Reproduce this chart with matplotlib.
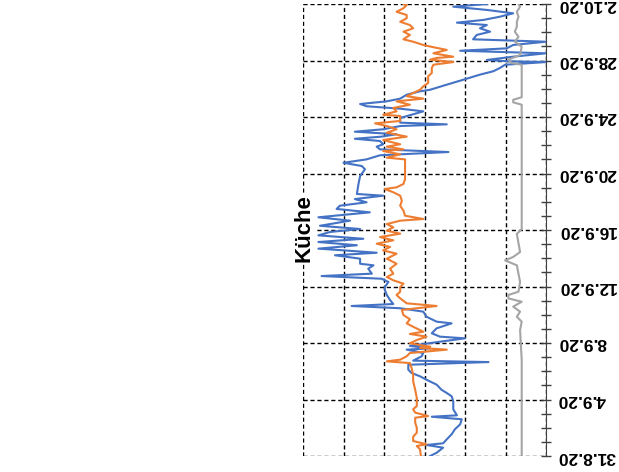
import numpy as np
import pandas as pd
import matplotlib
matplotlib.use('Agg')
import matplotlib.pyplot as plt
from matplotlib.ticker import FixedLocator

plt.rcParams['font.family'] = ['Liberation Sans', 'DejaVu Sans']

start = pd.Timestamp('2020-08-31')

# days since 31.8.20 and readings (value axis 0..60, drawn right to left)
blue_days = [0.00, 0.23, 0.59, 0.78, 0.90, 1.18, 1.54, 1.89, 2.24, 2.60, 2.78, 2.88, 3.31, 3.54,
             3.87, 4.23, 4.46, 4.69, 5.05, 5.40, 5.64, 5.88, 6.11, 6.46, 6.65, 6.75, 7.06, 7.29,
             7.53, 7.62, 7.79, 8.09, 8.33, 8.45, 8.69, 9.04, 9.39, 9.51, 9.86, 10.22, 10.46, 10.62,
             10.76, 11.04, 11.40, 11.75, 11.96, 12.32, 12.55, 12.74, 12.91, 13.26, 13.50, 13.61,
             13.97, 14.21, 14.39, 14.56, 14.68, 14.92, 15.15, 15.38, 15.62, 15.86, 16.07, 16.30,
             16.66, 16.90, 17.25, 17.49, 17.72, 17.96, 18.19, 18.43, 18.55, 19.26, 19.82, 20.30,
             20.53, 20.76, 21.00, 21.29, 21.52, 21.71, 21.90, 22.07, 22.30, 22.46, 22.61, 22.78,
             22.96, 23.13, 23.36, 23.48, 23.60, 23.93, 24.40, 24.59, 24.76, 24.92, 25.11, 25.30,
             25.58, 25.82, 25.93, 26.29, 26.64, 27.00, 27.24, 27.47, 27.70, 27.89, 27.94, 28.04,
             28.27, 28.51, 28.69, 28.86, 29.10, 29.33, 29.50, 29.81, 30.04, 30.28, 30.51, 30.68,
             30.87, 31.10, 31.34, 31.58, 31.81, 32.00]
blue_vals = [28.6, 27.0, 25.4, 29.5, 25.4, 24.5, 23.3, 22.5, 21.2, 20.8, 28.2, 22.0, 22.9, 22.9,
             22.9, 23.3, 24.5, 25.8, 27.0, 29.5, 31.1, 33.2, 34.0, 34.0, 14.2, 32.8, 30.7, 30.3,
             34.4, 28.6, 33.6, 26.2, 20.0, 26.2, 28.2, 27.0, 23.3, 27.0, 29.5, 30.3, 36.0, 48.0,
             37.7, 38.5, 39.3, 39.8, 39.8, 38.9, 40.6, 55.4, 43.0, 43.9, 42.6, 45.9,
             45.9, 52.1, 41.8, 50.0, 56.2, 46.7, 56.2, 45.1, 56.2, 53.3, 45.9, 55.8,
             48.4, 56.2, 43.5, 51.7, 50.9, 44.3, 47.2, 40.2, 46.7, 46.3, 45.9, 44.7,
             45.5, 50.0, 44.3, 41.0, 24.1, 41.0, 41.8, 40.2, 41.0, 47.2, 40.6, 36.9,
             47.2, 40.2, 36.0, 24.5, 36.0, 36.0, 30.3, 36.0, 44.3, 45.9, 39.3, 36.0,
             34.4, 31.1, 28.6, 24.5, 20.4, 16.3, 13.0, 11.4, 10.1, 0.0, 8.9, 14.6,
             8.1, 0.0, 21.2, 9.7, 8.1, 0.0, 18.0, 17.1, 13.8, 16.3, 14.6, 22.0,
             15.5, 11.4, 8.1, 14.6, 22.9, 14.6]

orange_days = [0.00, 0.47, 0.71, 0.83, 1.06, 1.37, 1.65, 2.00, 2.36, 2.71, 2.83, 3.07, 3.31, 3.54,
               3.75, 4.11, 4.69, 5.29, 5.76, 6.23, 6.58, 6.70, 6.82, 7.06, 7.29, 7.53, 7.65, 7.74,
               7.98, 8.21, 8.45, 8.64, 8.80, 9.15, 9.39, 9.68, 9.98, 10.34, 10.62, 10.81, 11.16,
               11.40, 11.63, 11.96, 12.20, 12.44, 12.67, 12.91, 13.26, 13.61, 13.97, 14.32, 14.56,
               14.80, 15.03, 15.27, 15.50, 15.74, 15.95, 16.19, 16.42, 16.66, 16.78, 17.01, 17.37,
               17.72, 18.07, 18.43, 18.67, 18.90, 19.02, 19.26, 19.61, 20.53, 21.00, 21.12, 21.36,
               21.59, 21.71, 21.90, 22.07, 22.37, 22.61, 22.89, 23.13, 23.36, 23.55, 23.72, 24.07,
               24.16, 24.40, 24.64, 24.87, 25.11, 25.30, 25.47, 25.70, 25.93, 26.17, 26.41, 26.88,
               27.12, 27.47, 27.70, 27.89, 28.06, 28.18, 28.27, 28.51, 28.75, 28.94, 29.10, 29.33,
               29.50, 29.81, 30.04, 30.28, 30.51, 30.74, 30.99, 31.22, 31.45, 31.70, 31.93, 32.00]
orange_vals = [30.9, 31.1, 31.9, 29.5, 32.8, 32.8, 31.9, 31.9, 32.3, 32.3, 29.1, 32.3, 32.8, 31.9,
               31.9, 31.9, 32.3, 32.8, 32.8, 33.2, 33.6, 39.3, 36.0, 34.4, 33.6, 24.5, 31.1, 28.6,
               33.6, 31.9, 29.5, 33.6, 30.3, 32.8, 34.4, 33.6, 35.2, 35.6, 27.0, 34.4, 36.0,
               36.9, 36.0, 36.0, 35.2, 37.7, 39.3, 37.7, 38.5, 36.9, 39.3, 36.9, 40.2,
               38.5, 41.8, 37.7, 41.0, 36.0, 39.3, 37.7, 39.3, 36.0, 30.3, 34.8, 35.2,
               36.0, 35.6, 36.0, 37.7, 39.8, 36.9, 35.2, 34.8, 34.8, 34.8, 39.3, 36.0,
               40.2, 35.2, 39.3, 36.0, 40.2, 34.4, 39.3, 36.9, 39.3, 42.2, 36.0, 36.0,
               40.2, 36.9, 37.7, 33.6, 36.9, 30.3, 34.4, 32.8, 31.1, 30.3, 29.1, 29.1,
               28.2, 28.2, 27.8, 22.9, 28.6, 27.0, 22.9, 27.8, 24.5, 27.8, 30.3, 32.8,
               35.2, 33.6, 35.2, 32.8, 33.6, 36.0, 34.4, 34.4, 36.9, 35.2, 34.4, 35.2]

gray_days = [0.00, 6.80, 8.92, 9.51, 9.86, 10.22, 10.57, 10.92, 11.16, 11.40, 11.63, 12.32, 12.91,
             13.50, 13.85, 14.09, 14.44, 15.72, 16.07, 24.87, 25.04, 25.22, 25.40, 27.70, 27.82,
             28.06, 28.39, 28.98, 29.33, 29.68, 30.04, 30.39, 30.74, 31.10, 31.45, 31.81, 32.00]
gray_vals = [6.0, 6.0, 6.4, 6.0, 7.2, 6.4, 8.1, 6.0, 9.3, 9.3, 6.8, 6.4, 6.8,
             7.2, 10.1, 8.1, 6.4, 7.2, 6.0, 6.0, 8.1, 8.1, 6.0, 6.0, 8.5,
             9.3, 6.4, 6.0, 7.7, 6.8, 7.7, 7.2, 7.2, 6.8, 7.2, 6.4, 6.8]

title = 'Küche'
major_days = [0, 4, 8, 12, 16, 20, 24, 28, 32]


def to_time(days):
    return start + pd.to_timedelta(np.array(days), unit='D')


fig = plt.figure(figsize=(6.19, 4.72), dpi=100)
ax = fig.add_axes([303 / 619, 16 / 472, 243 / 619, 452 / 472])

ax.plot(blue_vals, to_time(blue_days), color='#4472C4', lw=1.5)
ax.plot(orange_vals, to_time(orange_days), color='#ED7D31', lw=1.5)
ax.plot(gray_vals, to_time(gray_days), color='#A5A5A5', lw=1.5)

# value axis runs right to left, no labels
ax.set_xlim(60, 0)
ax.xaxis.set_major_locator(FixedLocator(np.arange(0, 61, 10)))
ax.tick_params(axis='x', length=0, labelbottom=False)

# date axis on the right, labels upside down
major_t = to_time(major_days)
ax.set_ylim(major_t[0], major_t[-1])
ax.set_yticks(major_t)
ax.set_yticklabels([f'{t.day}.{t.month}.{t.strftime("%y")}' for t in major_t])
ax.set_yticks(to_time(range(0, 33)), minor=True)
ax.yaxis.tick_right()
ax.tick_params(axis='y', which='both', direction='inout', length=7, width=1,
               color='#404040', pad=5)
for lbl in ax.get_yticklabels():
    lbl.set_rotation(180)
    lbl.set_fontsize(12.5)
    lbl.set_fontweight('bold')
    lbl.set_va('center')

ax.grid(True, which='major', color='black', linestyle=(0, (3, 2)), lw=1)
for side in ['left', 'top', 'bottom']:
    ax.spines[side].set_visible(False)
ax.spines['right'].set_color('#404040')

fig.text(304 / 619, 1 - 228 / 472, title, rotation=90, ha='center', va='center',
         fontsize=16, fontweight='bold',
         bbox=dict(facecolor='white', edgecolor='none', pad=1))

fig.savefig('out.png', dpi=100)
